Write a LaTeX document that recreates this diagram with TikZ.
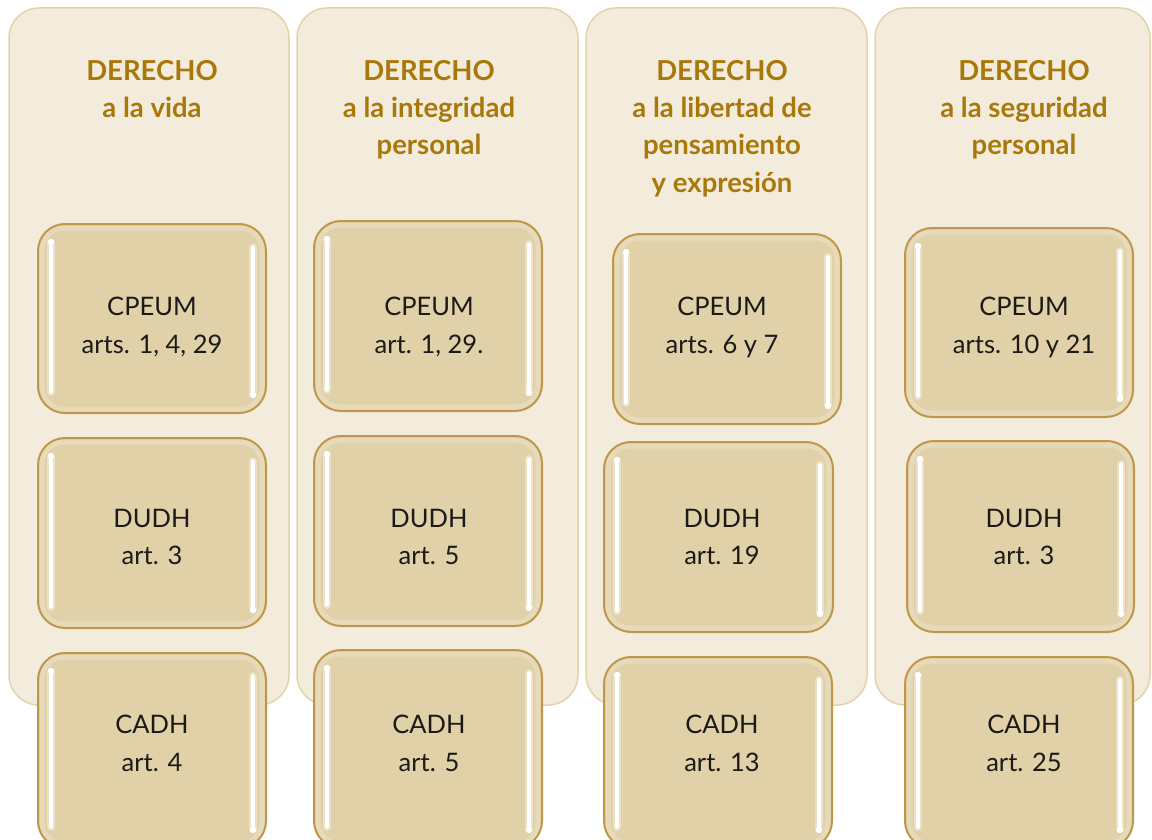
\documentclass[tikz,border=0pt]{standalone}
\usepackage{fontspec}
\setmainfont{Lato}
\definecolor{panelfill}{HTML}{F3ECDD}
\definecolor{panelline}{HTML}{E4D3AA}
\definecolor{boxfill}{HTML}{E1D1A9}
\definecolor{boxline}{HTML}{BE9848}
\definecolor{titlecol}{HTML}{A8780A}
\definecolor{bodycol}{HTML}{1C1A17}
\tikzset{
  panel/.style={draw=panelline, line width=1.5pt, fill=panelfill, rounded corners=30pt},
  artbox/.style={draw=boxline, line width=2pt, fill=boxfill, rounded corners=27pt, inner sep=0pt},
  titletext/.style={text=titlecol, font=\fontsize{27.5}{37.3}\selectfont\bfseries, align=center, anchor=north, inner sep=0pt},
  boxtext/.style={text=bodycol, font=\fontsize{25.5}{37.5}\selectfont, align=center, anchor=north, inner sep=0pt},
  gloss/.style={draw=white, line width=3.5pt, line cap=round},
  glosshalo/.style={draw=white, draw opacity=0.35, line width=8pt, line cap=round},
  innerglow/.style={draw=white, draw opacity=0.2, line width=5pt, rounded corners=22pt}
}
\newcommand{\artbox}[5]{% name, x1, y1, x2, y2
  \node[artbox, minimum width={(#4-#2)*1pt}, minimum height={(#5-#3)*1pt}] (#1) at ({(#2+#4)/2},{(#3+#5)/2}) {};
  \draw[innerglow] ([shift={(5,5)}]#1.north west) rectangle ([shift={(-5,-5)}]#1.south east);
  \draw[glosshalo] ([shift={(14,20)}]#1.north west) -- ([shift={(14,-22)}]#1.south west);
  \draw[glosshalo] ([shift={(-14,24)}]#1.north east) -- ([shift={(-14,-20)}]#1.south east);
  \draw[gloss] ([shift={(14,20)}]#1.north west) -- ([shift={(14,-22)}]#1.south west);
  \fill[white] ([shift={(14,19)}]#1.north west) circle (3.2pt);
  \draw[gloss] ([shift={(-14,24)}]#1.north east) -- ([shift={(-14,-20)}]#1.south east);
  \fill[white] ([shift={(-14,-19)}]#1.south east) circle (3.2pt);
}
\begin{document}
\begin{tikzpicture}[x=1pt, y=-1pt]
\useasboundingbox (0,0) rectangle (1152,840);
\clip (0,0) rectangle (1152,840);
\fill[white] (0,0) rectangle (1152,840);
% panels
\node[panel, minimum width=280pt, minimum height=697pt] (p1) at (149,356.5) {};
\node[panel, minimum width=281pt, minimum height=697pt] (p2) at (437.5,356.5) {};
\node[panel, minimum width=281pt, minimum height=697pt] (p3) at (726.5,356.5) {};
\node[panel, minimum width=275pt, minimum height=697pt] (p4) at (1012.5,356.5) {};
% titles
\node[titletext] (t1) at (152,60) {DERECHO\\a la vida};
\node[titletext] (t2) at (429,60) {DERECHO\\a la integridad\\personal};
\node[titletext] (t3) at (722,60) {DERECHO\\a la libertad de\\pensamiento\\y expresión};
\node[titletext] (t4) at (1024,60) {DERECHO\\a la seguridad\\personal};
% boxes
\artbox{b11}{38}{224}{266}{413}
\artbox{b12}{38}{438}{266}{628}
\artbox{b13}{38}{653}{266}{848}
\artbox{b21}{314}{221}{542}{411}
\artbox{b22}{314}{436}{542}{626}
\artbox{b23}{314}{650}{542}{848}
\artbox{b31}{613}{234}{841}{424}
\artbox{b32}{604}{442}{833}{632}
\artbox{b33}{604}{657}{832}{848}
\artbox{b41}{905}{228}{1133}{417}
\artbox{b42}{907}{441}{1134}{632}
\artbox{b43}{905}{657}{1133}{848}
% box texts
\node[boxtext] (x11) at (152,297) {CPEUM\\arts. 1, 4, 29};
\node[boxtext] (x12) at (152,509) {DUDH\\art. 3};
\node[boxtext] (x13) at (152,715) {CADH\\art. 4};
\node[boxtext] (x21) at (429,297) {CPEUM\\art. 1, 29.};
\node[boxtext] (x22) at (429,509) {DUDH\\art. 5};
\node[boxtext] (x23) at (429,715) {CADH\\art. 5};
\node[boxtext] (x31) at (722,297) {CPEUM\\arts. 6 y 7};
\node[boxtext] (x32) at (722,509) {DUDH\\art. 19};
\node[boxtext] (x33) at (722,715) {CADH\\art. 13};
\node[boxtext] (x41) at (1024,297) {CPEUM\\arts. 10 y 21};
\node[boxtext] (x42) at (1024,509) {DUDH\\art. 3};
\node[boxtext] (x43) at (1024,715) {CADH\\art. 25};
\end{tikzpicture}
\end{document}
